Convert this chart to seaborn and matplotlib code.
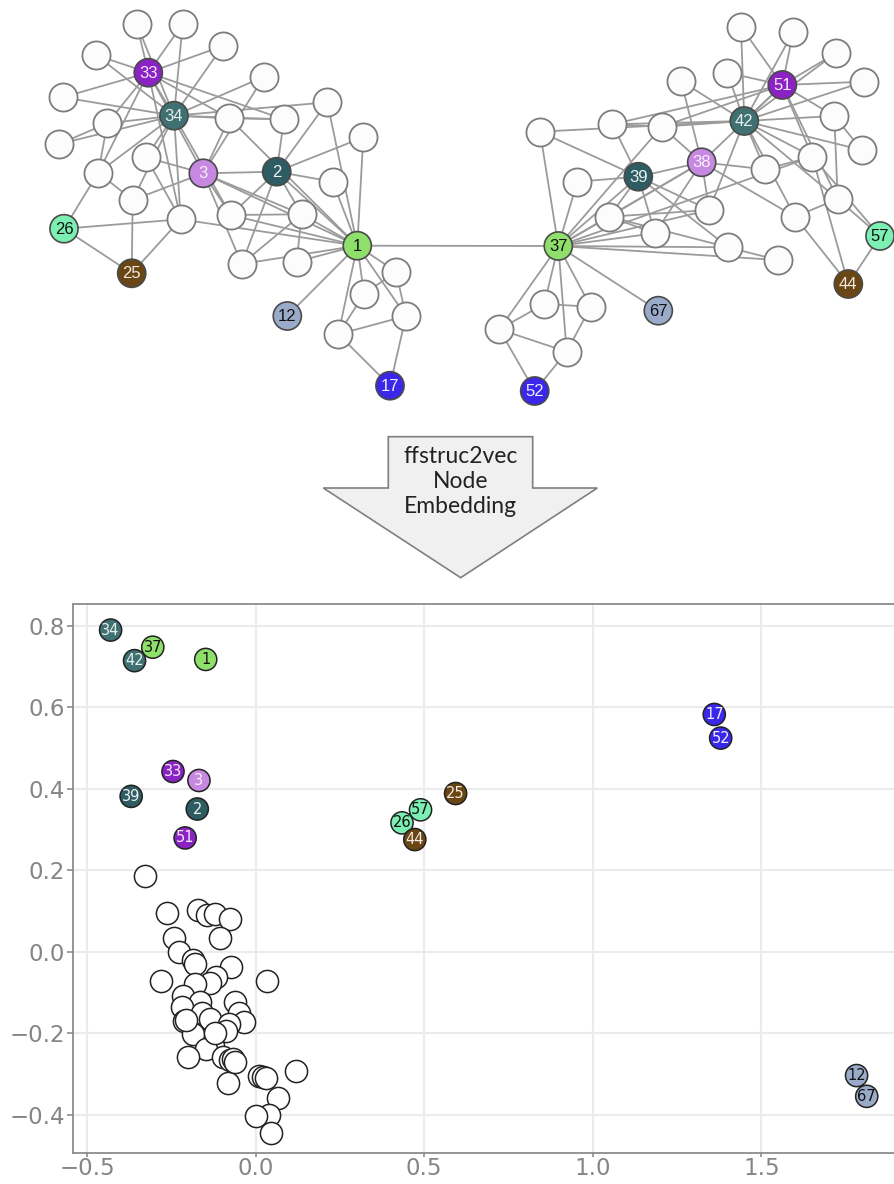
import numpy as np
import pandas as pd
import matplotlib
matplotlib.use("Agg")
import matplotlib.pyplot as plt
from matplotlib.patches import Polygon
from matplotlib.collections import LineCollection
import seaborn as sns

# ---------------------------------------------------------------------------
# Zachary karate club edges (1-indexed); the network is drawn twice and the
# two copies are joined by a bridge between their instructor nodes.
# ---------------------------------------------------------------------------
karate_edges = [
    (1, 2), (1, 3), (1, 4), (1, 5), (1, 6), (1, 7), (1, 8), (1, 9), (1, 11), (1, 12),
    (1, 13), (1, 14), (1, 18), (1, 20), (1, 22), (1, 32),
    (2, 3), (2, 4), (2, 8), (2, 14), (2, 18), (2, 20), (2, 22), (2, 31),
    (3, 4), (3, 8), (3, 9), (3, 10), (3, 14), (3, 28), (3, 29), (3, 33),
    (4, 8), (4, 13), (4, 14), (5, 7), (5, 11), (6, 7), (6, 11), (6, 17), (7, 17),
    (9, 31), (9, 33), (9, 34), (10, 34), (14, 34), (15, 33), (15, 34), (16, 33), (16, 34),
    (19, 33), (19, 34), (20, 34), (21, 33), (21, 34), (23, 33), (23, 34),
    (24, 26), (24, 28), (24, 30), (24, 33), (24, 34), (25, 26), (25, 28), (25, 32),
    (26, 32), (27, 30), (27, 34), (28, 34), (29, 32), (29, 34), (30, 33), (30, 34),
    (31, 33), (31, 34), (32, 33), (32, 34), (33, 34),
]

# layout of the left copy (karate nodes 1..34), canvas pixel units
left_x = [357.3, 276.7, 203.3, 301.7, 364.0, 406.0, 338.3, 241.7, 229.3, 264.0,
          396.0, 287.3, 296.7, 230.7, 136.7, 182.7, 390.0, 363.3, 96.0, 327.3,
          62.7, 332.7, 222.7, 98.3, 131.7, 64.0, 59.3, 132.7, 146.0, 107.3,
          284.0, 180.7, 148.3, 174.0]
left_y = [245.7, 171.7, 173.3, 214.3, 294.0, 316.0, 334.3, 264.0, 118.3, 76.7,
          271.7, 316.0, 261.7, 215.0, 24.0, 24.0, 385.7, 137.3, 55.0, 102.3,
          97.3, 181.7, 46.0, 172.7, 273.3, 228.7, 144.0, 200.0, 157.3, 123.3,
          119.3, 219.3, 72.7, 115.7]
# layout of the right copy (same karate order)
right_x = [558.3, 638.3, 701.7, 609.3, 590.7, 499.3, 566.7, 655.0, 661.7, 681.0,
           544.3, 658.3, 777.7, 709.3, 793.3, 741.0, 534.7, 728.3, 835.7, 540.0,
           864.0, 577.3, 727.3, 837.7, 848.3, 880.0, 861.7, 795.0, 765.0, 834.3,
           612.3, 812.3, 782.3, 744.3]
right_y = [246.0, 176.7, 162.3, 216.7, 306.7, 329.3, 351.7, 233.3, 126.7, 81.0,
           304.0, 310.7, 260.0, 210.0, 31.7, 26.7, 391.0, 247.3, 53.3, 131.7,
           81.7, 181.7, 72.7, 199.0, 284.0, 236.0, 150.0, 216.7, 169.3, 116.0,
           124.3, 156.7, 85.0, 121.0]

# highlighted nodes: karate index -> (left label, right label, colour group)
highlight = {
    1: ("1", "37", "green"),
    2: ("2", "39", "darkteal"),
    3: ("3", "38", "lilac"),
    12: ("12", "67", "slate"),
    17: ("17", "52", "blue"),
    25: ("25", "44", "brown"),
    26: ("26", "57", "mint"),
    33: ("33", "51", "purple"),
    34: ("34", "42", "teal"),
}

group_colors = {
    "green": "#8fe06a", "teal": "#3f7172", "darkteal": "#2d5c62", "purple": "#8b22c4",
    "lilac": "#c688e0", "mint": "#7cefb2", "brown": "#6a4614", "slate": "#9aabc9",
    "blue": "#3a27ea", "plain": "#ffffff",
}
label_colors = {
    "green": "#111111", "teal": "#e8eeee", "darkteal": "#eef2f2", "purple": "#f4eaf8",
    "lilac": "#f8f0fb", "mint": "#111111", "brown": "#f2ece2", "slate": "#111111",
    "blue": "#eeeeff",
}

# ---------------------------------------------------------------------------
# 2-D node embedding
# ---------------------------------------------------------------------------
emb_labels = ["34", "37", "42", "1", "33", "3", "39", "2", "51",
              "57", "26", "44", "25", "17", "52", "12", "67"]
emb_x = [-0.430, -0.305, -0.359, -0.148, -0.245, -0.168, -0.369, -0.173, -0.209,
         0.489, 0.434, 0.472, 0.593, 1.360, 1.379, 1.782, 1.812]
emb_y = [0.789, 0.747, 0.714, 0.717, 0.442, 0.420, 0.381, 0.350, 0.279,
         0.348, 0.316, 0.275, 0.388, 0.582, 0.524, -0.304, -0.355]
emb_group = ["teal", "green", "teal", "green", "purple", "lilac", "darkteal", "darkteal", "purple",
             "mint", "mint", "brown", "brown", "blue", "blue", "slate", "slate"]

plain_x = [-0.328, -0.263, -0.171, -0.145, -0.119, -0.075, -0.107, -0.243, -0.226, -0.186,
           -0.181, -0.074, -0.282, 0.035, -0.117, -0.134, -0.181, -0.216, -0.166, -0.062,
           -0.219, -0.158, -0.049, -0.033, -0.211, -0.136, -0.079, -0.186, -0.087, -0.127,
           -0.148, -0.201, -0.097, -0.075, -0.067, -0.083, 0.010, 0.022, 0.119, 0.066,
           0.040, 0.002, 0.047, -0.205, -0.120, -0.060, 0.030]
plain_y = [0.186, 0.095, 0.102, 0.090, 0.092, 0.080, 0.034, 0.034, -0.002, -0.020,
           -0.030, -0.038, -0.071, -0.071, -0.063, -0.077, -0.079, -0.108, -0.124, -0.124,
           -0.137, -0.150, -0.150, -0.173, -0.171, -0.165, -0.177, -0.202, -0.194, -0.231,
           -0.239, -0.259, -0.259, -0.267, -0.263, -0.323, -0.304, -0.308, -0.294, -0.360,
           -0.400, -0.402, -0.446, -0.168, -0.200, -0.270, -0.310]

x_ticks = [-0.5, 0.0, 0.5, 1.0, 1.5]
y_ticks = [-0.4, -0.2, 0.0, 0.2, 0.4, 0.6, 0.8]

arrow_lines = ["ffstruc2vec", "Node", "Embedding"]

# ---------------------------------------------------------------------------
sns.set_theme(style="whitegrid")
plt.rcParams["font.family"] = ["DejaVu Sans"]

W, H = 895, 1184
fig = plt.figure(figsize=(W / 100, H / 100), dpi=100)
fig.patch.set_facecolor("white")

# ---- canvas for the network and the arrow (pixel units) ----
cv = fig.add_axes([0, 0, 1, 1])
cv.patch.set_alpha(0)

segments = []
for pos_x, pos_y in ((left_x, left_y), (right_x, right_y)):
    for a, b in karate_edges:
        segments.append([(pos_x[a - 1], pos_y[a - 1]), (pos_x[b - 1], pos_y[b - 1])])
# bridge between the two instructor nodes
segments.append([(left_x[0], left_y[0]), (right_x[0], right_y[0])])
cv.add_collection(LineCollection(segments, colors="#9b9b9b", linewidths=1.3, zorder=1))

rows = []
for pos_x, pos_y, side in ((left_x, left_y, 0), (right_x, right_y, 1)):
    for k in range(34):
        info = highlight.get(k + 1)
        rows.append(dict(px=pos_x[k], py=pos_y[k],
                         group=info[2] if info else "plain",
                         label=info[side] if info else ""))
net = pd.DataFrame(rows)
plain_nodes = net[net.group == "plain"]
hl_nodes = net[net.group != "plain"]

sns.scatterplot(data=plain_nodes, x="px", y="py", color="#fcfcfc", s=410,
                edgecolor="#7d7d7d", linewidth=1.3, legend=False, ax=cv, zorder=3)
sns.scatterplot(data=hl_nodes, x="px", y="py", hue="group", palette=group_colors, s=410,
                edgecolor="#4a4a4a", linewidth=1.2, legend=False, ax=cv, zorder=4)
for _, r in hl_nodes.iterrows():
    cv.text(r.px, r.py + 0.5, r.label, ha="center", va="center", fontsize=12,
            family="Liberation Sans", color=label_colors[r.group], zorder=5)

# ---- down arrow ----
shape = [(388.3, 436.7), (532.7, 436.7), (532.7, 488.0), (597.3, 488.0),
         (460.7, 577.7), (323.3, 488.0), (388.3, 488.0)]
cv.add_patch(Polygon(shape, closed=True, facecolor="#f0f0f0", edgecolor="#7f7f7f",
                     linewidth=1.2, zorder=2))
for i, line in enumerate(arrow_lines):
    cv.text(460.5, 456.5 + 25.0 * i, line, ha="center", va="center", fontsize=16.5,
            family="Lato", color="#222222", zorder=3)

cv.set_xlim(0, W)
cv.set_ylim(H, 0)
cv.axis("off")

# ---- embedding scatter ----
ax = fig.add_axes([73 / W, 31 / H, 847 / W, 549 / H])
plain_df = pd.DataFrame({"x": plain_x, "y": plain_y})
emb_df = pd.DataFrame({"x": emb_x, "y": emb_y, "label": emb_labels, "group": emb_group})

sns.scatterplot(data=plain_df, x="x", y="y", color="white", s=255, edgecolor="#222222",
                linewidth=1.1, legend=False, ax=ax, zorder=3)
sns.scatterplot(data=emb_df, x="x", y="y", hue="group", palette=group_colors, s=255,
                edgecolor="#222222", linewidth=1.1, legend=False, ax=ax, zorder=4)
for _, r in emb_df.iterrows():
    ax.text(r.x, r.y, r.label, ha="center", va="center", fontsize=10.5,
            color=label_colors[r.group], zorder=5)

ax.set_xlim(-0.5415, 1.970)
ax.set_ylim(-0.494, 0.853)
ax.set_xticks(x_ticks)
ax.set_yticks(y_ticks)
ax.set_xticklabels([f"{t:.1f}".replace("-", "\u2212") for t in x_ticks])
ax.set_yticklabels([f"{t:.1f}".replace("-", "\u2212") for t in y_ticks])
ax.set_xlabel("")
ax.set_ylabel("")
ax.grid(True, color="#ebebeb", linewidth=1.5)
ax.set_axisbelow(True)
for side in ("left", "bottom", "top"):
    ax.spines[side].set_visible(True)
    ax.spines[side].set_color("#8c8c8c")
    ax.spines[side].set_linewidth(1.3)
ax.spines["right"].set_visible(False)
ax.tick_params(axis="both", which="major", labelsize=16.5, labelcolor="#858585",
               color="#8c8c8c", length=4, width=1.2, direction="out", pad=2,
               left=True, bottom=True)
ax.tick_params(axis="x", length=3, pad=0)

fig.savefig("out.png", dpi=100, facecolor="white")
